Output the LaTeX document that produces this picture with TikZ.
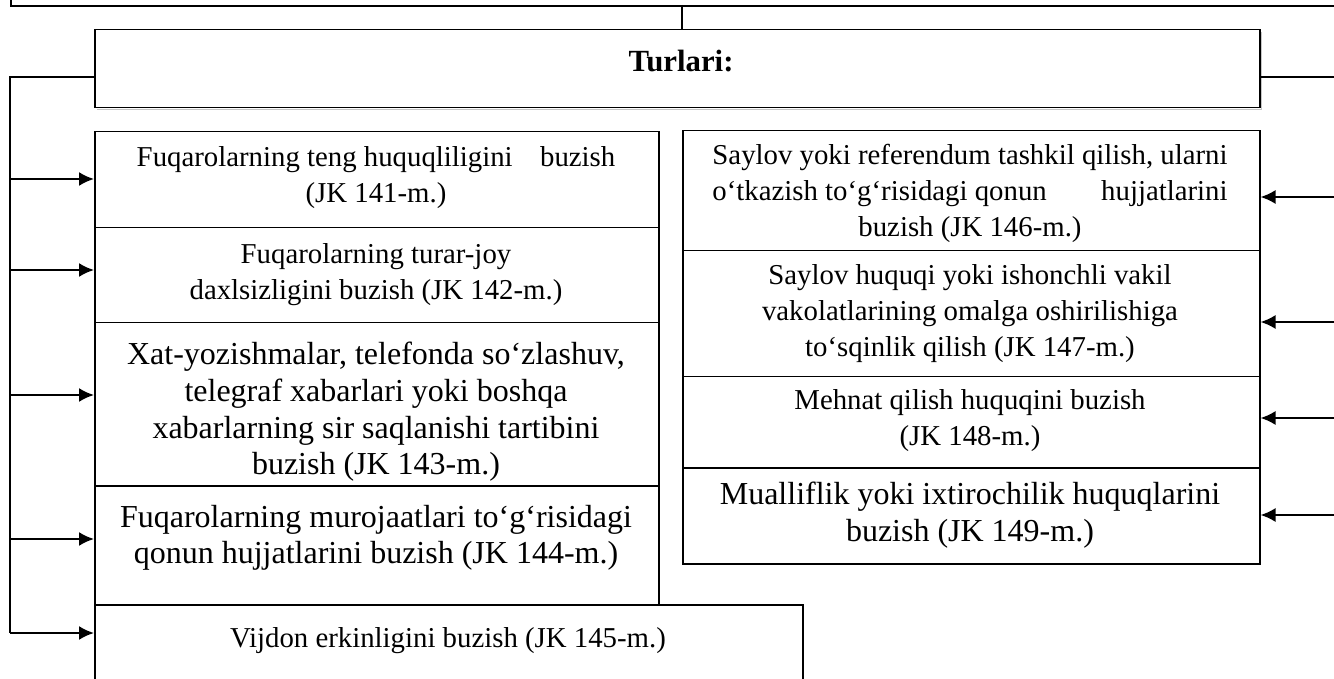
\documentclass[tikz,border=0pt]{standalone}
\usepackage{fontspec}
\setmainfont{Liberation Serif}
\usetikzlibrary{arrows.meta,calc}
\newlength\lnw
\tikzset{
  box/.style={draw, line width=0.75pt, inner sep=0pt, anchor=north west},
  txt/.style={align=center, inner sep=0pt, font=\fontsize{14.4}{18}\selectfont},
  bigtxt/.style={align=center, inner sep=0pt, font=\fontsize{16}{18.3}\selectfont},
  arr/.style={line width=1pt, -{Latex[length=7.5pt,width=7pt]}},
  conn/.style={line width=0.65pt},
  spine/.style={line width=0.75pt},
  shade/.style={draw=gray!45, line width=0.6pt},
}
\begin{document}
{\fontsize{14.4}{18}\selectfont\settowidth\lnw{Saylov yoki referendum tashkil qilish, ularni}\global\lnw=\lnw}
\begin{tikzpicture}[x=0.5pt,y=-0.5pt]
\useasboundingbox (0,0) rectangle (1334,679);
\clip (0,0) rectangle (1334,679);
% head box (cut off)
\node[box, line width=0.9pt, minimum width=695pt, minimum height=32.5pt] (head) at (10,-60) {};
% Turlari box with a light shadow
\draw[shade] ($(94,29)+(3,2)$) ++(0,0) (1261.5,32) -- (1261.5,109.5) -- (97,109.5);
\node[box, minimum width=582.5pt, minimum height=39pt] (types) at (94,29) {};
\node[inner sep=0pt, font=\fontsize{15.4}{18}\selectfont\bfseries] (tt) at (681,61) {Turlari:};
% left column
\node[box, minimum width=282pt, minimum height=48pt] (b1) at (94,131) {};
\node[box, minimum width=282pt, minimum height=47.5pt] (b2) at (94,227) {};
\node[box, minimum width=282pt, minimum height=81.5pt] (b3) at (94,322) {};
\node[box, minimum width=282pt, minimum height=59.5pt] (b4) at (94,485) {};
\node[box, minimum width=354pt, minimum height=60pt] (b5) at (94,604) {};
% right column
\node[box, minimum width=288.5pt, minimum height=60pt] (b6) at (682,130) {};
\node[box, minimum width=288.5pt, minimum height=63pt] (b7) at (682,250) {};
\node[box, minimum width=288.5pt, minimum height=45.5pt] (b8) at (682,376) {};
\node[box, minimum width=288.5pt, minimum height=48pt] (b9) at (682,467) {};
% texts
\node[txt] (t1) at (376,178) {Fuqarolarning teng huquqliligini\hspace{0.95em}buzish\\(JK 141-m.)};
\node[txt] (t2) at (376,275) {Fuqarolarning turar-joy\\daxlsizligini buzish (JK 142-m.)};
\node[bigtxt] (t3) at (376,412) {Xat-yozishmalar, telefonda so‘zlashuv,\\telegraf xabarlari yoki boshqa\\xabarlarning sir saqlanishi tartibini\\buzish (JK 143-m.)};
\node[bigtxt] (t4) at (376,538) {Fuqarolarning murojaatlari to‘g‘risidagi\\qonun hujjatlarini buzish (JK 144-m.)};
\node[txt] (t5) at (448,641) {Vijdon erkinligini buzish (JK 145-m.)};
\node[txt] (t6) at (970,193) {Saylov yoki referendum tashkil qilish, ularni\\\makebox[\lnw][s]{o‘tkazish to‘g‘risidagi qonun\hfill hujjatlarini}\\buzish (JK 146-m.)};
\node[txt] (t7) at (970,314) {Saylov huquqi yoki ishonchli vakil\\vakolatlarining omalga oshirilishiga\\to‘sqinlik qilish (JK 147-m.)};
\node[txt] (t8) at (970,421) {Mehnat qilish huquqini buzish\\(JK 148-m.)};
\node[bigtxt] (t9) at (970,515) {Mualliflik yoki ixtirochilik huquqlarini\\buzish (JK 149-m.)};
% connectors
\coordinate (hc) at (682,5);
\draw[conn] (hc) -- (hc |- types.north);
\coordinate (sp) at (10,77);
\coordinate (s1) at (10,179);
\coordinate (s2) at (10,270);
\coordinate (s3) at (10,395);
\coordinate (s4) at (10,539);
\coordinate (s5) at (10,633);
\draw[spine] (types.west |- sp) -- (sp) -- (s5);
\draw[arr] (s1) -- (s1 -| b1.west);
\draw[arr] (s2) -- (s2 -| b2.west);
\draw[arr] (s3) -- (s3 -| b3.west);
\draw[arr] (s4) -- (s4 -| b4.west);
\draw[arr] (s5) -- (s5 -| b5.west);
\coordinate (rp) at (1345,77);
\coordinate (r6) at (1345,197);
\coordinate (r7) at (1345,322);
\coordinate (r8) at (1345,418);
\coordinate (r9) at (1345,515);
\draw[conn] (types.east |- rp) -- (rp);
\draw[arr] (r6) -- (r6 -| b6.east);
\draw[arr] (r7) -- (r7 -| b7.east);
\draw[arr] (r8) -- (r8 -| b8.east);
\draw[arr] (r9) -- (r9 -| b9.east);
\end{tikzpicture}
\end{document}
